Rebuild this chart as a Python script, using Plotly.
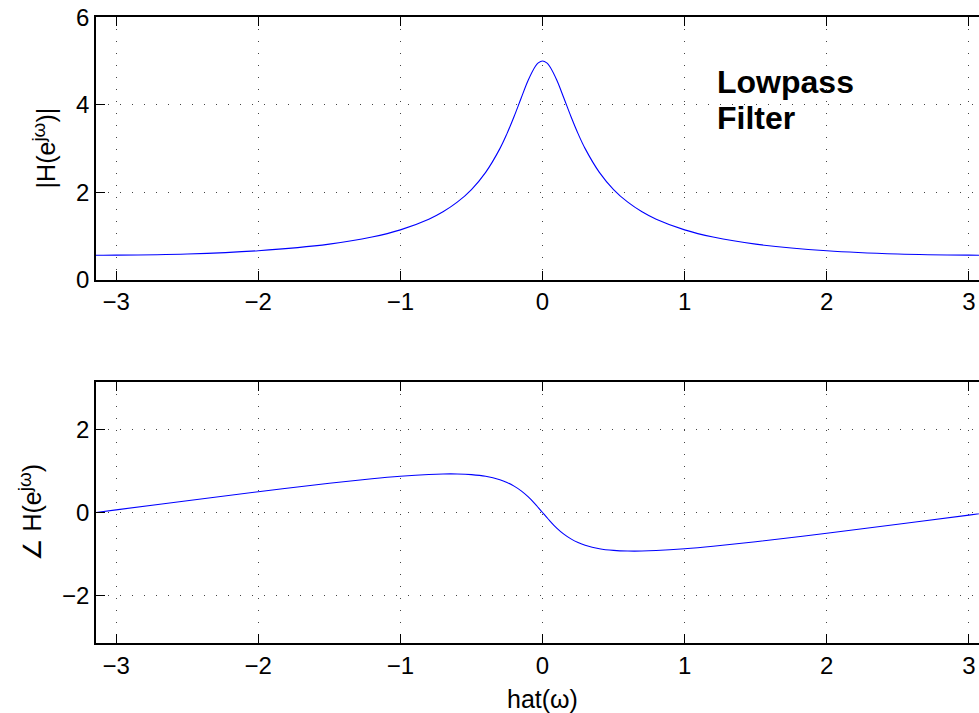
import plotly.graph_objects as go

# Frequency samples (radians)
omega = [-3.1416, -3.0, -2.5, -2.0, -1.5, -1.2, -1.0, -0.8, -0.7, -0.6, -0.5, -0.4,
         -0.3, -0.25, -0.2, -0.15, -0.1, -0.05, -0.03, 0.0,
         0.03, 0.05, 0.1, 0.15, 0.2, 0.25, 0.3, 0.4, 0.5, 0.6, 0.7, 0.8,
         1.0, 1.2, 1.5, 2.0, 2.5, 3.0, 3.1416]

# Magnitude |H(e^jw)|
magnitude = [0.556, 0.557, 0.585, 0.659, 0.809, 0.971, 1.136, 1.380, 1.550, 1.769, 2.059, 2.452,
             2.995, 3.338, 3.730, 4.153, 4.565, 4.879, 4.956, 5.0,
             4.956, 4.879, 4.565, 4.153, 3.730, 3.338, 2.995, 2.452, 2.059, 1.769, 1.550, 1.380,
             1.136, 0.971, 0.809, 0.659, 0.585, 0.557, 0.556]

# Phase angle H(e^jw)
phase = [0.0, 0.063, 0.284, 0.500, 0.702, 0.810, 0.870, 0.914, 0.926, 0.926, 0.910, 0.870,
         0.787, 0.722, 0.634, 0.520, 0.374, 0.196, 0.119, 0.0,
         -0.119, -0.196, -0.374, -0.520, -0.634, -0.722, -0.787, -0.870, -0.910, -0.926, -0.926, -0.914,
         -0.870, -0.810, -0.702, -0.500, -0.284, -0.063, 0.0]

x_ticks = [-3, -2, -1, 0, 1, 2, 3]
mag_ticks = [0, 2, 4, 6]
phase_ticks = [-2, 0, 2]

W, H = 979, 713
FONT = "Liberation Sans, Arial, Helvetica, sans-serif"

fig = go.Figure()
fig.add_trace(go.Scatter(x=omega, y=magnitude, mode="lines", line=dict(color="#0000ff", width=1.1, shape="spline"),
                         xaxis="x", yaxis="y", showlegend=False, hoverinfo="skip"))
fig.add_trace(go.Scatter(x=omega, y=phase, mode="lines", line=dict(color="#0000ff", width=1.1, shape="spline"),
                         xaxis="x2", yaxis="y2", showlegend=False, hoverinfo="skip"))

xdom = [96 / W, 1.0]
xr = [-3.14159, 3.071]
common_axis = dict(showline=True, linecolor="black", linewidth=1.7, ticks="inside", ticklen=9,
                   tickcolor="black", tickwidth=1, showgrid=True, griddash="1px,11px", gridcolor="#444",
                   gridwidth=1, zeroline=False, tickfont=dict(family=FONT, size=24, color="black"),
                   automargin=False)

SUP = '<sup><span style="font-size:19px">jω</span></sup>'

fig.update_layout(
    width=W, height=H,
    margin=dict(l=0, r=0, t=0, b=0),
    paper_bgcolor="white", plot_bgcolor="white",
    xaxis=dict(domain=xdom, range=xr, tickvals=x_ticks, anchor="y", mirror="ticks", **common_axis),
    yaxis=dict(domain=[(H - 279.5) / H, (H - 17.3) / H], range=[0, 6], tickvals=mag_ticks, anchor="x",
               **common_axis),
    xaxis2=dict(domain=xdom, range=xr, tickvals=x_ticks, anchor="y2", mirror="ticks", **common_axis),
    yaxis2=dict(domain=[(H - 643.3) / H, (H - 381.7) / H], range=[-3.14159, 3.14159], tickvals=phase_ticks,
                anchor="x2", **common_axis),
    annotations=[
        dict(text="<b>Lowpass</b>", x=1.215, y=4.52, xref="x", yref="y", xanchor="left",
             yanchor="middle", align="left", showarrow=False, font=dict(family=FONT, size=32, color="black")),
        dict(text="<b>Filter</b>", x=1.215, y=3.69, xref="x", yref="y", xanchor="left",
             yanchor="middle", align="left", showarrow=False, font=dict(family=FONT, size=32, color="black")),
        dict(text="|H(e" + SUP + ")|", x=44 / W, y=(H - 148.4) / H, xref="paper", yref="paper",
             textangle=-90, showarrow=False, xanchor="center", yanchor="middle",
             font=dict(family=FONT, size=25, color="black")),
        dict(text="∠ H(e" + SUP + ")", x=30 / W, y=(H - 512.5) / H, xref="paper", yref="paper",
             textangle=-90, showarrow=False, xanchor="center", yanchor="middle",
             font=dict(family=FONT, size=25, color="black")),
        dict(text="hat(ω)", x=0, y=(H - 699) / H, xref="x2", yref="paper", showarrow=False,
             xanchor="center", yanchor="middle", font=dict(family=FONT, size=25, color="black")),
    ],
)

fig.write_html("out.html", config={"displayModeBar": False},
               post_script="document.body.style.margin='0';document.body.style.overflow='hidden';")
